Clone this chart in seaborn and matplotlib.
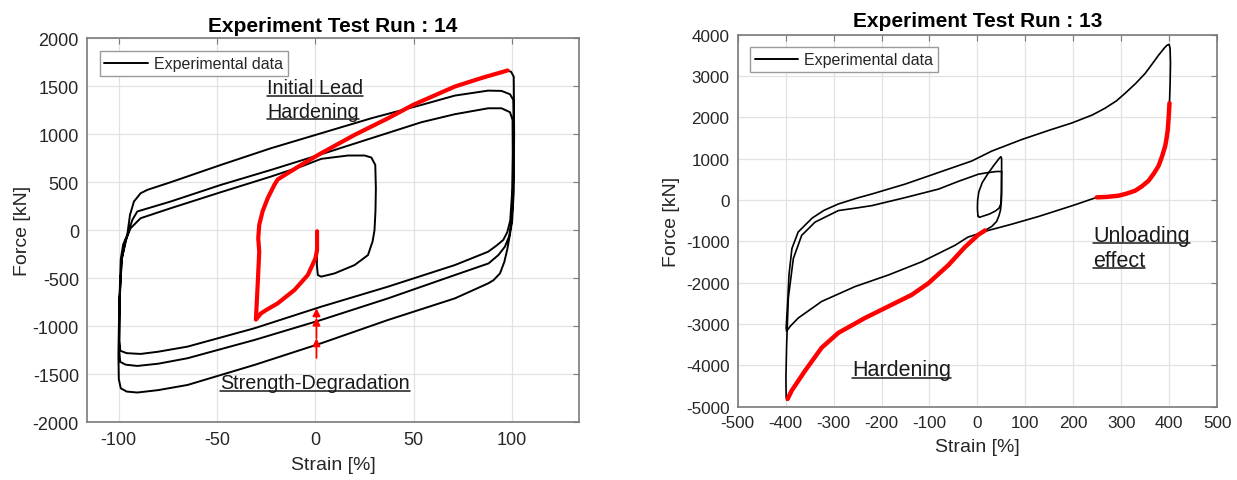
import matplotlib
matplotlib.use("Agg")
import matplotlib.pyplot as plt
import seaborn as sns
from matplotlib.lines import Line2D

# ---------------- Run 14 (left panel) ----------------
# initial loading, red (chronological)
run14_red_x = [0.8, 0.8, 0.0, -3.9, -10.7, -19.2, -25.0, -27.7, -30.3, -29.4, -28.6, -29.1,
               -28.6, -26.9, -24.3, -20.9, -19.2, -14.1, -7.3, 2.9, 19.9, 36.9, 49.6, 70.8,
               85.0, 97.7]
run14_red_y = [-10, -206, -292, -466, -622, -761, -830, -865, -930, -570, -223, -82,
               57, 196, 334, 473, 530, 595, 681, 803, 994, 1167, 1306, 1497,
               1590, 1665]

# experimental cycles, black (chronological, continues from red end)
run14_blk_x = [97.7, 99.5, 100.8, 101.0, 100.8, 100.0, 98.8, 97.5, 96.0, 93.8, 90.5, 87.8,
               70.9, 36.9, 2.9, -31.1, -65.0, -80.0, -90.6, -96.0, -99.0, -100.0, -100.2,
               -99.8, -99.0, -97.8, -95.7, -94.3, -92.3, -88.9, -85.5, -73.6, -48.1, -22.6,
               2.9, 28.4, 53.9, 70.8, 87.8, 94.6, 98.9, 100.6,
               100.8, 100.5, 99.8, 98.5, 96.3, 93.0, 88.0, 70.9, 36.9, 2.9, -31.1, -65.1,
               -80.0, -90.6, -96.5, -99.3, -99.8, -99.6, -98.5, -96.5, -94.8, -93.1, -90.6,
               -73.6, -48.1, -22.6, 2.9, 28.4, 53.9, 70.8, 87.8, 94.6, 98.9, 100.2,
               100.3, 100.0, 99.0, 97.5, 95.5, 92.0, 87.8, 70.9, 36.9, 2.9, -31.1, -65.1,
               -80.0, -88.9, -96.0, -99.2, -99.8, -99.5, -98.5, -96.5, -94.0, -88.9,
               -73.6, -48.1, -22.6, -7.3, 2.9, 16.5, 25.0, 28.4, 30.4, 30.7, 30.5, 30.0,
               29.0, 28.4, 26.7, 19.9, 9.7, 2.9, 1.2, 0.7, 0.8]
run14_blk_y = [1665, 1650, 1600, 1000, 400, 100, -50, -200, -330, -449, -520, -553,
               -709, -934, -1177, -1403, -1611, -1665, -1690, -1680, -1646, -1550, -1300,
               -800, -300, -150, -47, 161, 300, 386, 421, 501, 681, 855,
               1011, 1167, 1306, 1403, 1455, 1452, 1417, 1358,
               1000, 500, 100, -60, -171, -258, -345, -466, -709, -934, -1143, -1333,
               -1390, -1413, -1400, -1370, -1250, -700, -300, -120, 5, 109, 196,
               300, 473, 629, 792, 959, 1126, 1209, 1271, 1271, 1230, 1150,
               800, 400, 100, -20, -100, -160, -223, -362, -587, -796, -1021, -1212,
               -1265, -1288, -1280, -1255, -1150, -700, -300, -100, 22, 126,
               230, 397, 560, 664, 744, 779, 779, 758, 681, 438, 200, 0,
               -120, -154, -258, -362, -449, -483, -466, -362, -206]

# strength degradation arrows (tail, tip)
run14_arrows = [((0.5, -1330), (0.5, -1125)), ((0.5, -1125), (0.5, -910)), ((0.5, -910), (0.5, -812))]

# ---------------- Run 13 (right panel) ----------------
run13_loop_x = [1.0, 0.0, 0.5, 3.0, 10.0, 22.0, 35.0, 45.0, 49.0, 50.5, 50.5, 50.0, 48.7,
                45.0, 37.0, 25.0, 12.0, 4.0, 1.0]
run13_loop_y = [-380, -200, 0, 200, 420, 640, 850, 1000, 1048, 1000, 700, 200, -100,
                -200, -270, -340, -390, -420, -380]

run13_branch_x = [50.5, 40.0, 20.0, 2.0, -40.0, -81.0, -150.0, -220.0, -256.0, -290.0,
                  -338.8, -366.6, -384.0, -394.5, -398.0, -399.5, -399.0, -397.0, -395.9]
run13_branch_y = [690, 690, 660, 624, 450, 264, 60, -136, -200, -256,
                  -536, -856, -1416, -2376, -3500, -4300, -4776, -4850, -4816]

run13_hard_x = [-395.9, -387.5, -359.7, -324.9, -290.0, -234.4, -185.7, -137.0, -102.3,
                -60.5, -25.7, 2.1, 16.0]
run13_hard_y = [-4816, -4616, -4136, -3576, -3216, -2856, -2576, -2296, -2016,
                -1576, -1136, -840, -736]

run13_rise_x = [16.0, 30.0, 40.0, 45.0, 48.0, 49.5, 50.5, 50.5]
run13_rise_y = [-736, -640, -520, -380, -250, -100, 100, 690]

run13_upper_x = [-398.0, -399.0, -396.0, -393.0, -387.0, -374.0, -345.0, -320.0, -290.0,
                 -250.0, -220.5, -151.0, -81.4, -11.8, 29.9, 92.5, 150.0, 196.9, 240.0,
                 266.5, 290.0, 308.2, 330.0, 349.9, 365.0, 377.8, 390.0, 395.2, 400.0,
                 402.0, 402.8, 402.0, 400.7]
run13_upper_y = [-3176, -3100, -2500, -1800, -1176, -776, -440, -250, -96,
                 50, 144, 384, 664, 944, 1184, 1464, 1690, 1864, 2060,
                 2224, 2400, 2584, 2820, 3064, 3300, 3504, 3680, 3744, 3768,
                 3664, 3304, 2800, 2344]

run13_unload_x = [400.7, 399.0, 397.2, 394.0, 391.7, 385.0, 377.8, 368.0, 356.9, 343.0,
                  329.0, 310.0, 294.3, 270.0, 249.0]
run13_unload_y = [2344, 2000, 1704, 1450, 1304, 1050, 824, 640, 464, 330,
                  224, 150, 104, 75, 64]

run13_diag_x = [249.0, 200.0, 127.3, 70.0, 23.0, -20.0, -46.6, -116.2, -185.7, -255.3,
                -324.9, -373.6, -390.0, -398.0]
run13_diag_y = [64, -130, -400, -591, -736, -900, -1096, -1496, -1816, -2096,
                -2456, -2856, -3050, -3176]

sns.set_theme(style="whitegrid")
plt.rcParams['font.family'] = ['Liberation Sans', 'DejaVu Sans']
plt.rcParams['axes.unicode_minus'] = False

TXT = '#262626'
SPINE = '#7a7a7a'

fig = plt.figure(figsize=(12.37, 4.81), dpi=100)
ax1 = fig.add_axes([0.0706, 0.1200, 0.3975, 0.7983])
ax2 = fig.add_axes([0.5964, 0.1528, 0.3875, 0.7728])


def draw(ax, xs, ys, color, lw):
    sns.lineplot(x=xs, y=ys, sort=False, estimator=None, color=color, lw=lw, ax=ax)


def style(ax, xlim, ylim, xticks, yticks, title, tsize, title_pad, ypad):
    ax.set_xlim(*xlim)
    ax.set_ylim(*ylim)
    ax.set_xticks(xticks)
    ax.set_yticks(yticks)
    ax.grid(True, color='#e2e2e2', lw=0.9)
    ax.set_facecolor('white')
    for sp in ax.spines.values():
        sp.set_color(SPINE)
        sp.set_linewidth(1.2)
    ax.tick_params(direction='in', top=True, right=True, length=4, width=0.8,
                   color=SPINE, labelsize=tsize, labelcolor=TXT, pad=6)
    ax.set_xlabel('Strain [%]', fontsize=14, color=TXT, labelpad=6)
    ax.set_ylabel('Force [kN]', fontsize=14, color=TXT, labelpad=ypad)
    ax.set_title(title, fontsize=15, fontweight='bold', color='black', pad=title_pad)
    ax.legend(handles=[Line2D([0], [0], color='black', lw=1.4)], labels=['Experimental data'],
              loc='upper left', bbox_to_anchor=(0.025, 0.966), borderaxespad=0,
              fancybox=False, edgecolor='#9a9a9a', framealpha=1, fontsize=11.5,
              handlelength=2.7, borderpad=0.3, handletextpad=0.4)


# left panel
draw(ax1, run14_blk_x, run14_blk_y, 'black', 1.4)
draw(ax1, run14_red_x, run14_red_y, 'red', 3.0)
for tail, tip in run14_arrows:
    ax1.annotate('', xy=tip, xytext=tail,
                 arrowprops=dict(arrowstyle='-|>', color='red', lw=1.3, mutation_scale=11,
                                 shrinkA=0, shrinkB=0))
style(ax1, (-116, 134), (-2000, 2000), [-100, -50, 0, 50, 100],
      list(range(-2000, 2001, 500)), 'Experiment Test Run : 14', 13, 5.5, 1)

# right panel
draw(ax2, run13_loop_x, run13_loop_y, 'black', 1.2)
draw(ax2, run13_branch_x, run13_branch_y, 'black', 1.2)
draw(ax2, run13_rise_x, run13_rise_y, 'black', 1.2)
draw(ax2, run13_upper_x, run13_upper_y, 'black', 1.2)
draw(ax2, run13_diag_x, run13_diag_y, 'black', 1.2)
draw(ax2, run13_hard_x, run13_hard_y, 'red', 3.2)
draw(ax2, run13_unload_x, run13_unload_y, 'red', 3.2)
style(ax2, (-500, 500), (-5000, 4000), list(range(-500, 501, 100)),
      list(range(-5000, 4001, 1000)), 'Experiment Test Run : 13', 12.3, 6.3, 4)

# underlined annotations
notes = [
    (ax1, -24.7, 1425, 'Initial Lead', 14.2),
    (ax1, -24.7, 1185, 'Hardening', 14.2),
    (ax1, -48.5, -1645, 'Strength-Degradation', 14.2),
    (ax2, -261.5, -4237, 'Hardening', 15.5),
    (ax2, 241, -985, 'Unloading', 15.5),
    (ax2, 241, -1590, 'effect', 15.5),
]
texts = []
for ax, x, y, s, size in notes:
    t = ax.text(x, y, s, fontsize=size, ha='left', va='baseline', color='#1a1a1a')
    texts.append((ax, t, size))

fig.canvas.draw()
renderer = fig.canvas.get_renderer()
inv = fig.transFigure.inverted()
for ax, t, size in texts:
    bb = t.get_window_extent(renderer)
    base = ax.transData.transform(t.get_position())[1]
    yl = base - 0.12 * size * fig.dpi / 72
    p0 = inv.transform((bb.x0, yl))
    p1 = inv.transform((bb.x1, yl))
    fig.add_artist(Line2D([p0[0], p1[0]], [p0[1], p1[1]], transform=fig.transFigure,
                          color='#1a1a1a', lw=1.1))

fig.savefig('out.png', dpi=100, facecolor='white')
